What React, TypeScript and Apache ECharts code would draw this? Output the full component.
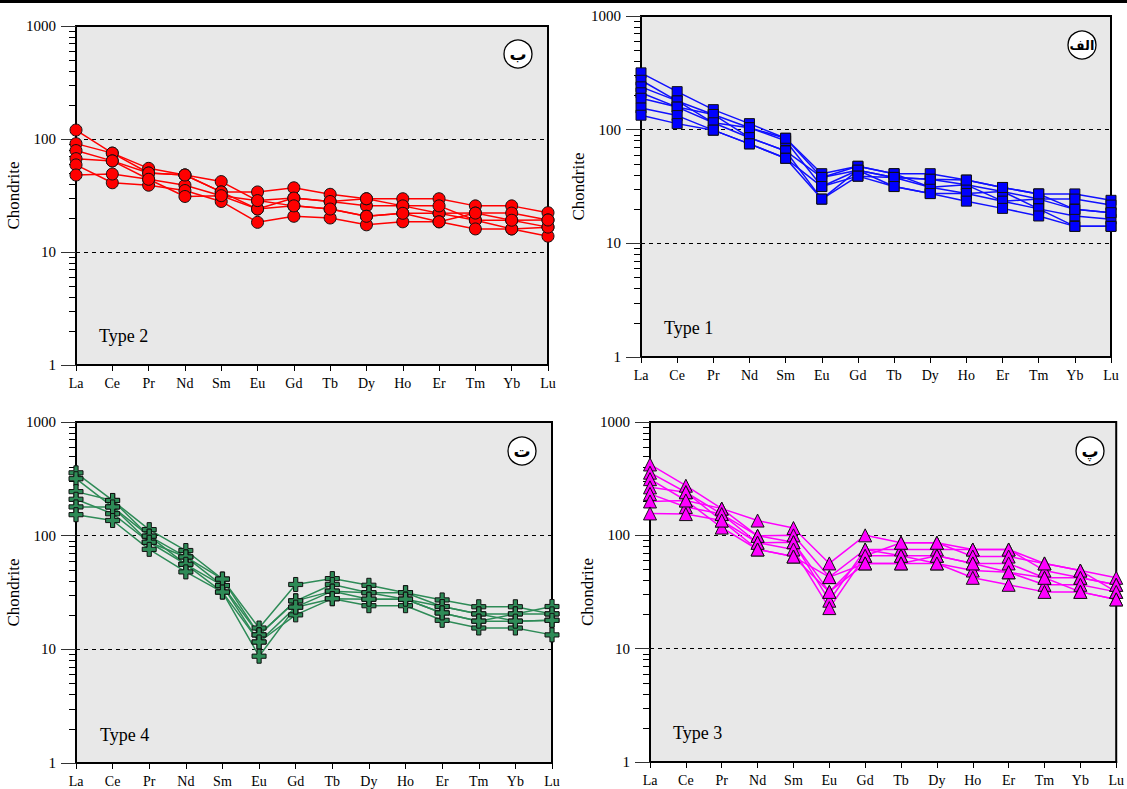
import React, { useEffect, useRef } from "react";
import * as echarts from "echarts";

const ELEMENTS = ["La", "Ce", "Pr", "Nd", "Sm", "Eu", "Gd", "Tb", "Dy", "Ho", "Er", "Tm", "Yb", "Lu"];

// Type 2 (ب) – red circles
const TYPE2 = [
  [120, 75, 55, 48, 42, 28.5, 30, 28, 25.6, 25.6, 22, 19.1, 19.1, 16.6],
  [91, 75, 50, 48, 34, 34, 37, 32.4, 29.6, 29.6, 29.6, 25.6, 25.6, 22.3],
  [79, 64, 44, 39, 31.5, 24, 25.6, 24, 20.7, 22, 22, 22.1, 22.1, 19.2],
  [67, 64, 50, 48, 34, 24, 30, 28, 29.6, 25.6, 25.6, 19.1, 16, 13.8],
  [59, 41, 39, 35, 28, 18.3, 20.7, 20, 17.4, 18.5, 18.5, 16, 16, 16.6],
  [48, 49, 44, 31, 31.5, 28.5, 25.6, 24, 20.7, 22, 18.5, 22.1, 19.1, 19.2],
];

// Type 1 (الف) – blue squares
const TYPE1 = [
  [316, 216, 150, 113, 84, 41, 47.6, 41, 41, 36, 31, 27.2, 27.2, 23.9],
  [272, 179, 136, 104, 80, 31.6, 44, 38, 36.6, 32.7, 28.6, 24.5, 19.9, 18.6],
  [238, 179, 115, 104, 84, 38, 47.6, 41, 31.2, 32.7, 23.5, 24.5, 24.5, 21.7],
  [211, 158, 136, 85, 65, 24.5, 44, 38, 31.2, 27.4, 28.6, 20.1, 17.4, 16.3],
  [189, 158, 115, 85, 65, 38, 44, 31.6, 27.4, 27.4, 23.5, 20.1, 14.1, 14.1],
  [155, 133, 99, 75, 56, 31.6, 39, 38, 36.6, 36, 31, 27.2, 19.9, 18.6],
  [134, 113, 99, 75, 56, 24.5, 39, 31.6, 27.4, 23.5, 20.3, 17.4, 14.1, 14.1],
];

// Type 4 (ت) – green crosses
const TYPE4 = [
  [357, 204, 113, 74, 41.5, 15.4, 37.2, 41.9, 36.6, 31.5, 27.2, 23.7, 23.7, 20.5],
  [317, 179, 99, 65, 36.4, 13.4, 26.7, 37.2, 31.5, 31.5, 23.8, 20.5, 20.5, 23.8],
  [244, 204, 99, 56, 36.4, 11.6, 23.5, 32.5, 31.5, 27.6, 23.8, 20.5, 17.7, 18],
  [209, 156, 87.5, 65, 41.5, 13.4, 26.7, 32.5, 27.6, 27.6, 20.9, 17.7, 20.5, 20.5],
  [179, 179, 87.5, 56, 31.9, 11.6, 20.1, 27.9, 24.2, 24.2, 18, 15.4, 15.4, 13.4],
  [153, 136, 75.8, 48, 31.9, 8.7, 23.5, 27.9, 27.6, 27.6, 20.9, 17.7, 17.7, 18],
];

// Type 3 (پ) – magenta triangles
const TYPE3 = [
  [422, 274, 172, 135, 116, 56.5, 100, 86, 86, 75, 75, 56.5, 48.9, 42.2],
  [357, 240, 154, 99, 100, 42.8, 75, 75, 75, 75, 75, 48.9, 42.2, 36.6],
  [313, 203, 172, 99, 87, 31.7, 66, 86, 86, 65, 65, 56.5, 48.9, 31.7],
  [265, 240, 135, 86, 87, 26.5, 75, 66, 66, 56.5, 56.5, 42.2, 42.2, 36.6],
  [232, 178, 154, 86, 75, 22.8, 66, 66, 56.5, 48.9, 47.2, 36.6, 36.6, 31.7],
  [199, 203, 117, 75, 65, 31.7, 56.5, 56.5, 66, 56.5, 47.2, 42.2, 31.7, 27.2],
  [156, 154, 135, 75, 65, 42.8, 56.5, 56.5, 56.5, 42.2, 36.6, 31.7, 31.7, 27.2],
];

const PANEL_TITLES = ["Type 2", "Type 1", "Type 4", "Type 3"];
const PANEL_BADGES = ["ب", "الف", "ت", "پ"];

const SERIF = "Liberation Serif";
const CROSS = "path://M3.5,0 H6.5 V3.5 H10 V6.5 H6.5 V10 H3.5 V6.5 H0 V3.5 H3.5 Z";

export default function App() {
  const ref = useRef<HTMLDivElement>(null);
  useEffect(() => {
    if (!ref.current) return;
    const chart = echarts.init(ref.current, undefined, { renderer: "svg" });

    const grids = [
      { left: 76, top: 26, width: 472, height: 339 },
      { left: 641, top: 16, width: 470, height: 341 },
      { left: 76, top: 422, width: 476, height: 341 },
      { left: 650, top: 422, width: 468, height: 340 },
    ];
    const panels = [
      { data: TYPE2, color: "#ff0000", line: "#ff0000", symbol: "circle", size: 12 },
      { data: TYPE1, color: "#0000ff", line: "#1010ff", symbol: "rect", size: 10 },
      { data: TYPE4, color: "#2e8b57", line: "#2e8b57", symbol: CROSS, size: 14 },
      { data: TYPE3, color: "#ff00ff", line: "#ff00ff", symbol: "triangle", size: 13 },
    ];

    const series: any[] = [];
    panels.forEach((p, i) => {
      p.data.forEach((row, k) => {
        series.push({
          type: "line",
          name: `${PANEL_TITLES[i]}-${k + 1}`,
          xAxisIndex: i,
          yAxisIndex: i,
          data: row,
          symbol: p.symbol,
          symbolSize: p.size,
          showAllSymbol: true,
          lineStyle: { color: p.line, width: 1.5 },
          itemStyle: { color: p.color, borderColor: "#111", borderWidth: 1, opacity: 1 },
          emphasis: { disabled: true },
          z: 3,
        });
      });
    });

    const badges: any[] = [];
    const badgePos = [
      [518, 54],
      [1082, 45],
      [522, 451],
      [1090, 451],
    ];
    const titlePos = [
      [99, 336],
      [664, 328],
      [100, 735],
      [673, 733],
    ];
    badgePos.forEach(([cx, cy], i) => {
      badges.push({
        type: "circle",
        shape: { cx, cy, r: 14 },
        style: { fill: "#fff", stroke: "#000", lineWidth: 1.3 },
        z: 10,
      });
      badges.push({
        type: "text",
        x: cx,
        y: cy,
        style: {
          text: PANEL_BADGES[i],
          fontFamily: "DejaVu Sans",
          fontWeight: "bold",
          fontSize: i === 1 ? 13 : 17,
          fill: "#000",
          align: "center",
          verticalAlign: "middle",
        },
        z: 11,
      });
      badges.push({
        type: "text",
        x: titlePos[i][0],
        y: titlePos[i][1],
        style: {
          text: PANEL_TITLES[i],
          fontFamily: SERIF,
          fontSize: 18,
          fill: "#000",
          verticalAlign: "middle",
        },
        z: 10,
      });
    });
    badges.push({
      type: "rect",
      shape: { x: 0, y: 0, width: 1127, height: 3 },
      style: { fill: "#000" },
      z: 10,
    });

    chart.setOption({
      animation: false,
      backgroundColor: "#fff",
      grid: grids.map((g) => ({
        ...g,
        show: true,
        backgroundColor: "#e8e8e8",
        borderColor: "#000",
        borderWidth: 2,
        containLabel: false,
      })),
      xAxis: grids.map((_, i) => ({
        type: "category",
        gridIndex: i,
        data: ELEMENTS,
        boundaryGap: false,
        axisLine: { lineStyle: { color: "#000", width: 2 } },
        axisTick: { show: true, length: 6, lineStyle: { color: "#000" } },
        axisLabel: {
          interval: 0,
          margin: 11,
          fontFamily: SERIF,
          fontSize: 14,
          color: "#000",
        },
        splitLine: { show: false },
      })),
      yAxis: grids.map((_, i) => ({
        type: "log",
        logBase: 10,
        gridIndex: i,
        min: 1,
        max: 1000,
        name: "Chondrite",
        nameLocation: "middle",
        nameRotate: 90,
        nameGap: 46,
        nameTextStyle: { fontFamily: SERIF, fontSize: 17, color: "#000" },
        axisLine: { show: true, lineStyle: { color: "#000", width: 2 } },
        axisTick: { show: true, length: 15, lineStyle: { color: "#333" } },
        minorTick: { show: true, splitNumber: 9, length: 7, lineStyle: { color: "#000" } },
        axisLabel: {
          margin: 20,
          fontFamily: SERIF,
          fontSize: 15,
          color: "#000",
          formatter: (v: number) => String(Math.round(v)),
        },
        splitLine: {
          show: true,
          lineStyle: { color: "#000", type: [4, 4], width: 1 },
        },
      })),
      series,
      graphic: badges,
    });

    return () => chart.dispose();
  }, []);

  return (
    <div
      ref={ref}
      style={{ position: "absolute", left: 0, top: 0, width: 1127, height: 789 }}
    />
  );
}
